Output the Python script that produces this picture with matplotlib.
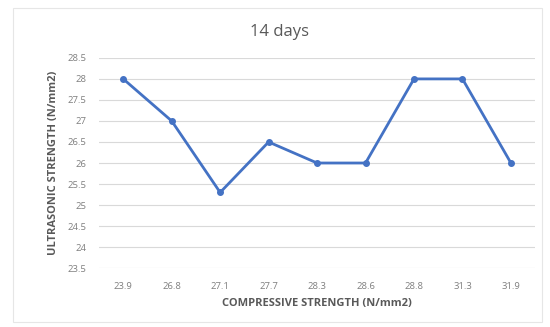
import matplotlib.pyplot as plt
from matplotlib.patches import Rectangle

# compressive strength categories and ultrasonic readings (14 days)
compressive = ["23.9", "26.8", "27.1", "27.7", "28.3", "28.6", "28.8", "31.3", "31.9"]
ultrasonic = [28, 27, 25.3, 26.5, 26, 26, 28, 28, 26]
y_ticks = [23.5, 24, 24.5, 25, 25.5, 26, 26.5, 27, 27.5, 28, 28.5]

plt.rcParams["font.family"] = ["Open Sans", "DejaVu Sans"]

fig = plt.figure(figsize=(5.5, 3.27), dpi=100)
ax = fig.add_axes([0.18, 0.18, 0.793, 0.643])

# light frame round the whole chart
fig.patches.append(Rectangle((0.024, 0.015), 0.962, 0.96, transform=fig.transFigure,
                             fill=False, edgecolor="#E6E6E6", linewidth=0.8))

x = list(range(len(compressive)))
ax.plot(x, ultrasonic, color="#4472C4", linewidth=2.0, marker="o", markersize=4)

ax.set_xlim(-0.5, len(compressive) - 0.5)
ax.set_ylim(23.5, 28.5)
ax.set_yticks(y_ticks)
ax.set_yticklabels([f"{v:g}" for v in y_ticks])
ax.set_xticks(x)
ax.set_xticklabels(compressive)

ax.grid(axis="y", color="#D9D9D9", linewidth=0.8)
ax.set_axisbelow(True)
for s in ax.spines.values():
    s.set_visible(False)
ax.tick_params(length=0, labelsize=6.8, labelcolor="#7F7F7F")
ax.tick_params(axis="x", pad=10)
ax.tick_params(axis="y", pad=9)

fig.text(0.508, 0.902, "14 days", ha="center", va="center", fontsize=12, color="#595959")
ax.set_xlabel("COMPRESSIVE STRENGTH (N/mm2)", fontsize=8, fontweight="bold",
              color="#595959", labelpad=5)
ax.set_ylabel("ULTRASONIC STRENGTH (N/mm2)", fontsize=8, fontweight="bold",
              color="#595959", labelpad=6)

plt.savefig("out.png", dpi=100)
